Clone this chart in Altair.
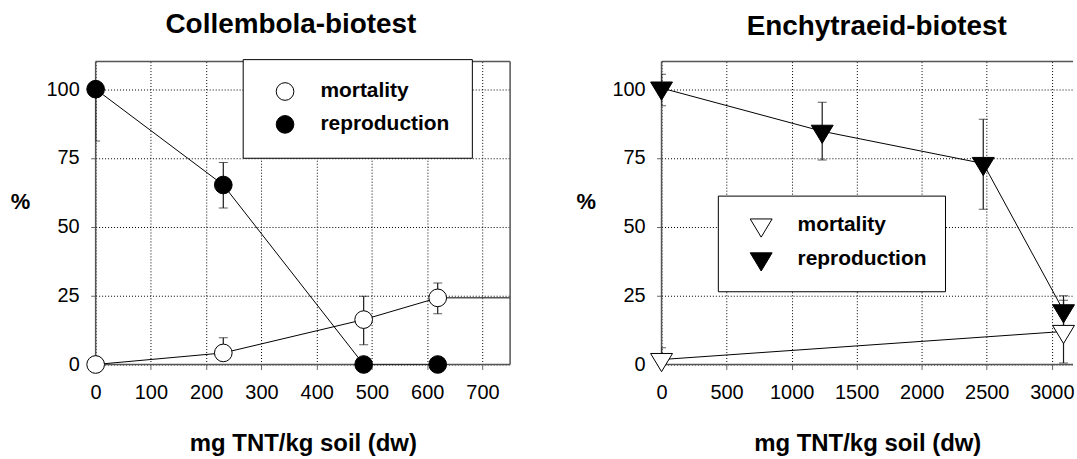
import altair as alt
import pandas as pd

# ---------------- data ----------------
series_names = ["mortality", "reproduction"]

# Collembola-biotest
col_mort_x = [0, 231, 485, 619]
col_mort_y = [0.0, 4.2, 16.3, 24.2]
col_mort_lo = [0.0, 4.2, 7.2, 18.4]
col_mort_hi = [0.0, 9.7, 24.8, 29.6]
col_rep_x = [0, 231, 485, 619]
col_rep_y = [100.0, 65.2, 0.0, 0.0]
col_rep_lo = [81.2, 56.8, 0.0, 0.0]
col_rep_hi = [100.0, 73.4, 0.0, 0.0]
# mortality curve continues flat past the axis end
col_tail_x = [619, 800]
col_tail_y = [24.2, 24.2]

# Enchytraeid-biotest
enc_mort_x = [0, 3090]
enc_mort_y = [1.8, 12.0]
enc_mort_lo = [-2.5, 0.5]
enc_mort_hi = [6.1, 23.3]
enc_rep_x = [0, 1235, 2473, 3090]
enc_rep_y = [100.4, 84.7, 73.0, 19.5]
enc_rep_lo = [94.0, 74.3, 56.4, 14.0]
enc_rep_hi = [105.4, 95.2, 89.1, 25.0]

col_ticks = [0, 100, 200, 300, 400, 500, 600, 700]
enc_ticks = [0, 500, 1000, 1500, 2000, 2500, 3000]
y_ticks = [0, 25, 50, 75, 100]

FONT = "Liberation Sans"
TRI = "M -1 -0.553 L 1 -0.553 L 0 1.107 Z"


def table(mx, my, mlo, mhi, rx, ry, rlo, rhi):
    rows = []
    for x, y, lo, hi in zip(mx, my, mlo, mhi):
        rows.append(dict(x=x, y=y, lo=lo, hi=hi, series="mortality"))
    for x, y, lo, hi in zip(rx, ry, rlo, rhi):
        rows.append(dict(x=x, y=y, lo=lo, hi=hi, series="reproduction"))
    return pd.DataFrame(rows)


def panel(df, tail, xdomain, xticks, width, height, title, title_dx,
          shape, msize, leg_x, leg_y, leg_pad, leg_row, leg_symoff):
    X = alt.X("x:Q", scale=alt.Scale(domain=xdomain, nice=False, zero=False),
              axis=alt.Axis(values=xticks, title="mg TNT/kg soil (dw)",
                            format="d",
                            grid=True, gridDash=[1, 2], gridColor="black",
                            gridOpacity=1, domain=False, tickSize=5,
                            tickColor="#666666", labelFontSize=20,
                            labelFont=FONT, labelColor="black",
                            labelPadding=13, labelFlush=False,
                            titleFontSize=24, titleFont=FONT,
                            titleFontWeight="bold", titleColor="black",
                            titlePadding=29.5))
    Y = alt.Y("y:Q", scale=alt.Scale(domain=[0, 110], nice=False, zero=False),
              axis=alt.Axis(values=y_ticks, title="%", titleAngle=0,
                            titleFontSize=22, titleFont=FONT,
                            titleFontWeight="bold", titleColor="black",
                            titleX=-76, titleY=140, titleAlign="center",
                            titleBaseline="middle",
                            grid=True, gridDash=[1, 2], gridColor="black",
                            gridOpacity=1, domain=False, tickSize=5,
                            tickColor="#666666", labelFontSize=20,
                            labelFont=FONT, labelColor="black",
                            labelPadding=11.5))
    one = pd.DataFrame({"a": [0]})
    border = "#555555"
    rules = [
        alt.Chart(one).mark_rule(color=border, strokeWidth=1.5).encode(
            x=alt.value(0), x2=alt.value(width), y=alt.value(0)),
        alt.Chart(one).mark_rule(color=border, strokeWidth=1.5).encode(
            x=alt.value(0), x2=alt.value(width), y=alt.value(height)),
        alt.Chart(one).mark_rule(color=border, strokeWidth=1.5).encode(
            x=alt.value(0), y=alt.value(0), y2=alt.value(height)),
    ]
    if shape == "circle":
        rules.append(alt.Chart(one).mark_rule(color=border, strokeWidth=1.5).encode(
            x=alt.value(width), y=alt.value(0), y2=alt.value(height)))

    base = alt.Chart(df)
    err = base.mark_rule(color="#1a1a1a", strokeWidth=1.2, clip=True).encode(
        x=X, y=alt.Y("lo:Q"), y2="hi:Q")
    cap_lo = base.mark_tick(color="#1a1a1a", orient="horizontal", size=9,
                            thickness=1, clip=True).encode(x=X, y=alt.Y("lo:Q"))
    cap_hi = base.mark_tick(color="#1a1a1a", orient="horizontal", size=9,
                            thickness=1, clip=True).encode(x=X, y=alt.Y("hi:Q"))
    layers = rules + [err, cap_lo, cap_hi]
    if tail is not None:
        layers.append(alt.Chart(tail).mark_line(color="#555555", strokeWidth=1.5,
                                                clip=True).encode(x=X, y=Y))
    line = base.mark_line(color="black", strokeWidth=1, clip=True).encode(
        x=X, y=Y, detail="series:N")
    leg = alt.Legend(title=None, orient="none", legendX=leg_x, legendY=leg_y,
                     fillColor="white", strokeColor="black",
                     padding=leg_pad, rowPadding=leg_row,
                     symbolOffset=leg_symoff,
                     labelOffset=25, labelFontSize=21, labelFont=FONT,
                     labelFontWeight="bold", labelColor="black",
                     labelLimit=400, symbolSize=msize,
                     symbolStrokeColor="black", symbolStrokeWidth=1)
    pts = base.mark_point(filled=True, strokeWidth=1,
                          opacity=1, fillOpacity=1, size=msize).encode(
        x=X, y=Y,
        fill=alt.Fill("series:N", scale=alt.Scale(domain=series_names,
                                                  range=["white", "black"]),
                      legend=leg),
        stroke=alt.Stroke("series:N", scale=alt.Scale(domain=series_names,
                                                      range=["black", "black"]),
                          legend=leg),
        shape=alt.Shape("series:N", scale=alt.Scale(domain=series_names,
                                                    range=[shape, shape]),
                        legend=leg),
    )
    layers += [line, pts]
    return alt.layer(*layers).properties(
        width=width, height=height,
        title=alt.TitleParams(title, fontSize=28, font=FONT,
                              fontWeight="bold", color="black",
                              anchor="middle", frame="group",
                              dx=title_dx, offset=20),
    )


col_df = table(col_mort_x, col_mort_y, col_mort_lo, col_mort_hi,
               col_rep_x, col_rep_y, col_rep_lo, col_rep_hi)
enc_df = table(enc_mort_x, enc_mort_y, enc_mort_lo, enc_mort_hi,
               enc_rep_x, enc_rep_y, enc_rep_lo, enc_rep_hi)
tail_df = pd.DataFrame({"x": col_tail_x, "y": col_tail_y})

left = panel(col_df, tail_df, [0, 750], col_ticks, 416, 304,
             "Collembola-biotest", -12, "circle", 314, 147.6, -2.5,
             22, 10, 10)
right = panel(enc_df, None, [0, 3163], enc_ticks, 413, 304,
              "Enchytraeid-biotest", 9.5, TRI, 484, 56.5, 134.5,
              18, 8, 14)

chart = alt.hconcat(left, right, spacing=65).resolve_scale(
    x="independent", y="independent", fill="independent",
    stroke="independent", shape="independent"
).resolve_legend(fill="independent", stroke="independent",
                 shape="independent").properties(
    padding={"left": 10, "top": 10, "right": 0, "bottom": 0},
    background="white",
).configure_view(stroke=None)

chart.save("out.html", embed_options={"renderer": "svg", "actions": False})
